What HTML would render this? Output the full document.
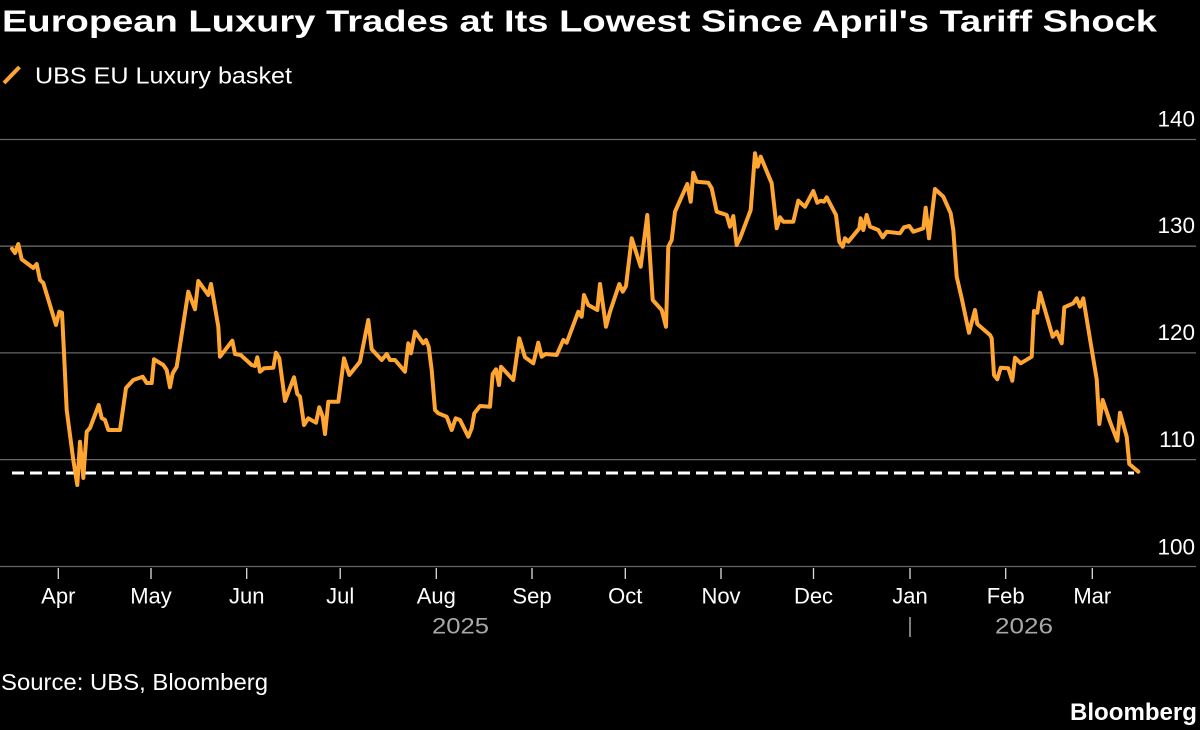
<!DOCTYPE html>
<html>
<head>
<meta charset="utf-8">
<style>
  html, body { margin: 0; padding: 0; background: #000; }
  body { width: 1200px; height: 730px; overflow: hidden; }
  svg { display: block; }
  text { font-family: "Liberation Sans", "DejaVu Sans", sans-serif; }
</style>
</head>
<body>
<svg width="1200" height="730" viewBox="0 0 1200 730" xmlns="http://www.w3.org/2000/svg">
  <rect x="0" y="0" width="1200" height="730" fill="#000"/>

  <!-- Title -->
  <text x="2" y="31.5" font-size="31" font-weight="bold" fill="#fff" textLength="1155" lengthAdjust="spacingAndGlyphs">European Luxury Trades at Its Lowest Since April's Tariff Shock</text>

  <!-- Legend -->
  <line x1="4" y1="83" x2="19.5" y2="67" stroke="#FFA531" stroke-width="4" stroke-linecap="butt"/>
  <text x="35" y="83.5" font-size="23" fill="#fff" textLength="257" lengthAdjust="spacingAndGlyphs">UBS EU Luxury basket</text>

  <!-- Gridlines -->
  <g stroke="#666" stroke-width="1.3">
    <line x1="0" y1="139.5" x2="1196" y2="139.5"/>
    <line x1="0" y1="246.2" x2="1196" y2="246.2"/>
    <line x1="0" y1="352.9" x2="1196" y2="352.9"/>
    <line x1="0" y1="459.6" x2="1196" y2="459.6"/>
    <line x1="0" y1="566.5" x2="1196" y2="566.5"/>
  </g>

  <!-- Y labels -->
  <g font-size="22.5" fill="#fff" text-anchor="end">
    <text x="1195" y="126.5">140</text>
    <text x="1195" y="233.2">130</text>
    <text x="1195" y="340">120</text>
    <text x="1195" y="447">110</text>
    <text x="1195" y="554.3">100</text>
  </g>

  <!-- X ticks -->
  <g stroke="#ddd" stroke-width="1.3">
    <line x1="58.3" y1="568" x2="58.3" y2="579"/>
    <line x1="151" y1="568" x2="151" y2="579"/>
    <line x1="246.7" y1="568" x2="246.7" y2="579"/>
    <line x1="340.2" y1="568" x2="340.2" y2="579"/>
    <line x1="436.3" y1="568" x2="436.3" y2="579"/>
    <line x1="532" y1="568" x2="532" y2="579"/>
    <line x1="625.3" y1="568" x2="625.3" y2="579"/>
    <line x1="721" y1="568" x2="721" y2="579"/>
    <line x1="813.5" y1="568" x2="813.5" y2="579"/>
    <line x1="910" y1="568" x2="910" y2="579"/>
    <line x1="1005.7" y1="568" x2="1005.7" y2="579"/>
    <line x1="1092.3" y1="568" x2="1092.3" y2="579"/>
  </g>

  <!-- Month labels -->
  <g font-size="22" fill="#fff" text-anchor="middle">
    <text x="58.3" y="603.5">Apr</text>
    <text x="151" y="603.5">May</text>
    <text x="246.7" y="603.5">Jun</text>
    <text x="340.2" y="603.5">Jul</text>
    <text x="436.3" y="603.5">Aug</text>
    <text x="532" y="603.5">Sep</text>
    <text x="625.3" y="603.5">Oct</text>
    <text x="721" y="603.5">Nov</text>
    <text x="813.5" y="603.5">Dec</text>
    <text x="910" y="603.5">Jan</text>
    <text x="1005.7" y="603.5">Feb</text>
    <text x="1092.3" y="603.5">Mar</text>
  </g>

  <!-- Year labels -->
  <g font-size="22" fill="#a8a8a8">
    <text x="432" y="633.3" textLength="57" lengthAdjust="spacingAndGlyphs">2025</text>
    <text x="995" y="633.3" textLength="58" lengthAdjust="spacingAndGlyphs">2026</text>
  </g>
  <line x1="910" y1="617" x2="910" y2="637" stroke="#a8a8a8" stroke-width="1.5"/>

  <!-- Dashed reference line -->
  <line x1="12" y1="473" x2="1134" y2="473" stroke="#fff" stroke-width="3" stroke-dasharray="12 6"/>

  <!-- Series -->
  <polyline fill="none" stroke="#FFA531" stroke-width="4" stroke-linejoin="round" stroke-linecap="round" points="
12,248.7 15,253 18.3,244 21.7,259.3 26.7,263 33.3,268 36.7,264 40,280 43.3,283 56,325 59.3,311.7 62,312.7 64,353 66.7,410 73.3,460 77.3,485 80,441.7 83.3,478 86.7,431.7 90,428 98.7,405 101.7,418 105,420 108.3,430 120,430 126,388 133.3,380 142.7,376.7 146.7,383 151.7,383 154,359.3 163.3,365 166.7,370 170,387.3 172.7,373.3 176.7,366.7 188.3,291.7 195,309.3 198.3,281 208.3,295 211,284 218.3,326.7 220,356.7 232.3,340.7 235,354 240.7,355 251.7,365 255,366 257.3,357.3 260,371.7 264,368.3 273.3,367.7 276,352.7 279.3,358.3 285,401 294,377.3 297.3,394 300,396.7 304,425 308.3,418.3 316,422.7 319.3,407.3 322.7,416.7 325,434 328.3,401.7 338.3,401.7 344,358.3 349.3,375 360,361.7 368.3,320 371.7,349.3 381.7,360 386.7,354 390,360 395,360 405,371.7 408.3,343.3 411,353.3 415,331.7 423.3,343.3 426,340 428.7,346.7 431.7,370 435,410 438.3,413.3 446.7,416.7 451.7,430 455.7,418.3 460,420 468.3,436.7 471.7,428.3 474.3,413.3 480,406 490,406.7 492.7,374 496,369.3 499,385 501,366.7 513.3,380 519.3,338.3 525,357.3 533.3,363.3 538.3,342.7 541.7,356.7 545.7,354 556.7,355 563.3,340 566.7,342.7 578.3,311.7 581.7,316.7 584,295 588.3,305 597.3,310 600,284 606,326.7 610,311.7 619.3,284 622.7,291.7 626,286 631.7,238.3 640.7,266.7 647.3,215 652.7,300 661.7,310 666,326.7 668.3,246.7 671.7,240 675,211.7 687.3,184 690.7,201.7 693.3,172.7 696.7,181.7 708.3,182.7 711.7,188.3 716.7,211.7 726.7,215 730,226.7 733.3,216 736.7,245 740,238.3 750.7,210 755,153.3 757.7,166.7 760.7,156.7 771.7,183.3 776.7,228.3 780,217.3 783.3,221.7 793.3,221.7 798.3,200.7 805,206.7 813.3,191 817.3,202.7 820.7,200.7 824,201.7 826.7,197.3 836,215 839.3,241.7 842.7,246.7 845,238.3 848.3,241.7 859.3,228.3 860.7,218.3 863.3,230 866.7,215 870,226.7 878.3,230 882.7,237.3 886.7,231.7 900,233.3 904,227.3 909.3,226 913.3,231.7 923.3,228.3 925.7,207.7 929,238.3 935,189 943.3,196.7 950.7,213.3 953.3,230 956.7,276.7 961.7,298.3 969,332.7 975,310 977.3,324 990,335 991.7,338.3 994,375 997.3,379.3 1000.7,367.7 1008.3,368.3 1012.3,380.7 1015,357.7 1020.7,363.3 1031.7,356.7 1034,311 1037.3,312.7 1040,292.7 1052.7,336.7 1056.7,331.7 1061.7,343.3 1064.3,307.3 1073.3,303.3 1076.7,298.3 1080,306.7 1083.3,298.3 1090.7,343.3 1096.7,379.3 1099.3,424 1102.7,400 1110,421.7 1117.3,440.7 1120,412.7 1126.7,436.7 1129.3,464 1138.3,471.7"/>

  <!-- Source & logo -->
  <text x="1" y="690" font-size="23" fill="#fff" textLength="267" lengthAdjust="spacingAndGlyphs">Source: UBS, Bloomberg</text>
  <text x="1197" y="720" font-size="24" font-weight="bold" fill="#fff" text-anchor="end" textLength="127" lengthAdjust="spacingAndGlyphs">Bloomberg</text>
</svg>
</body>
</html>
